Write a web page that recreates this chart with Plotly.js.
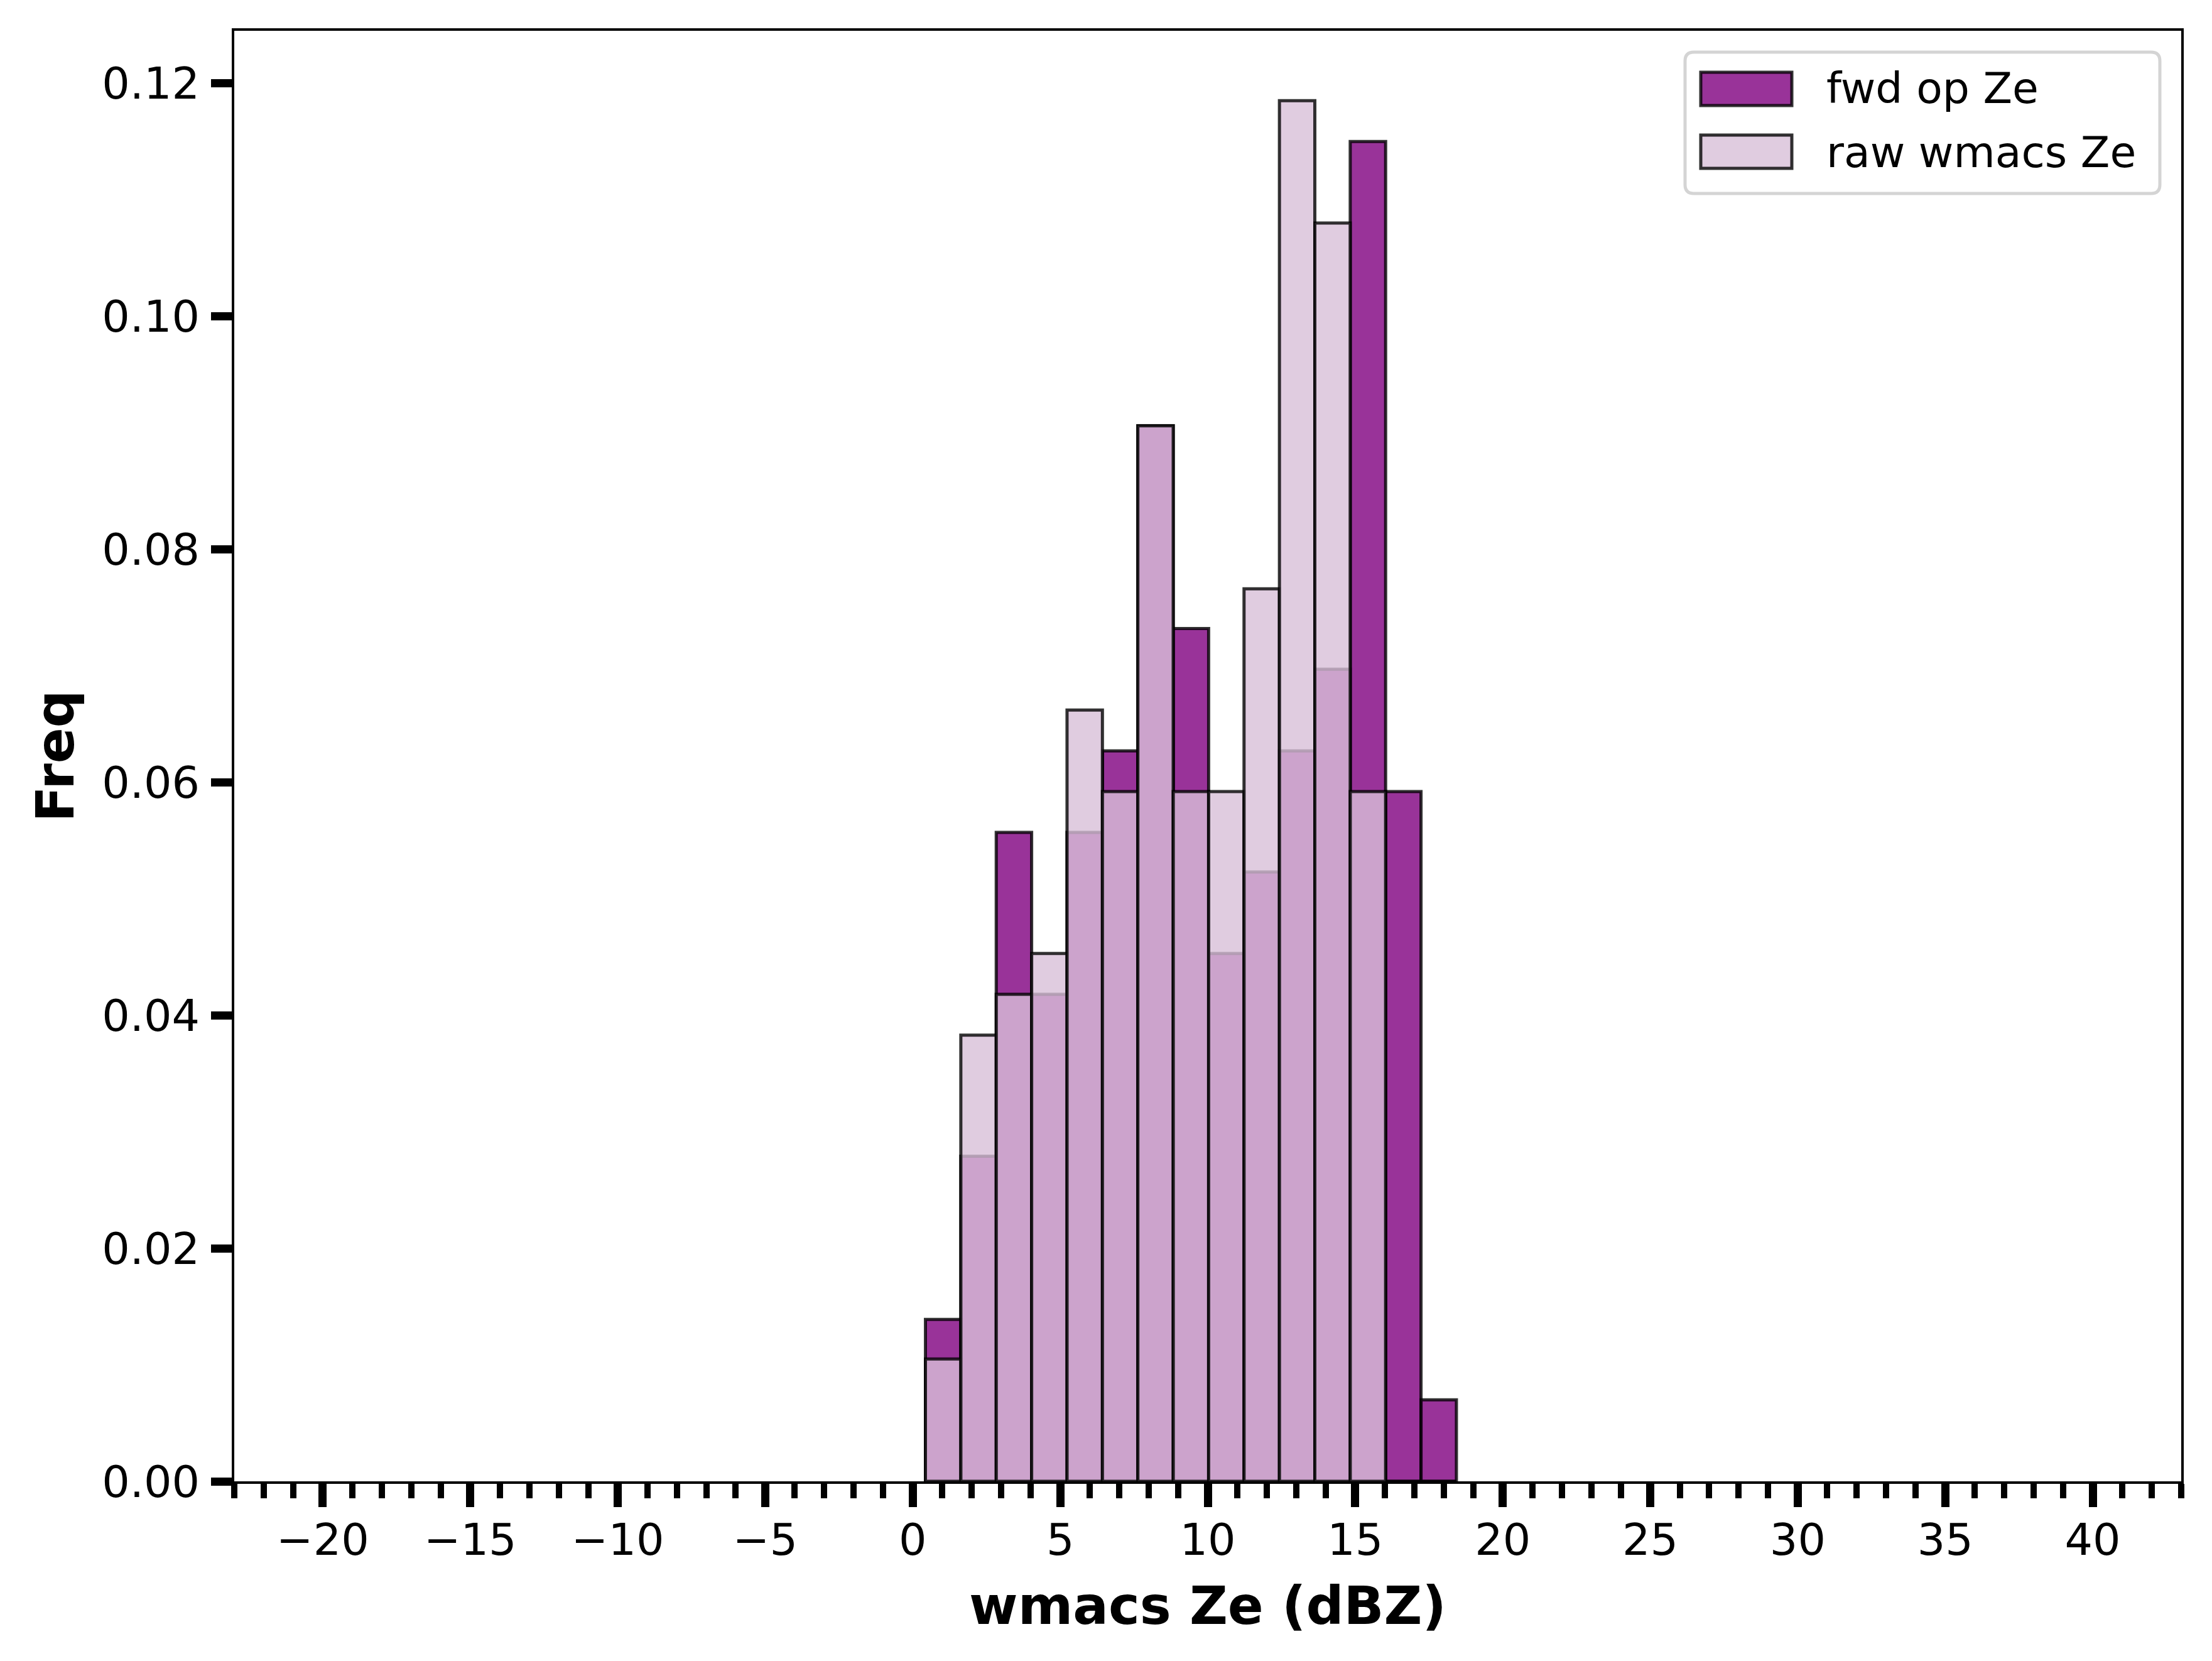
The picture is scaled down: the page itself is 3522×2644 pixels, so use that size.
<!DOCTYPE html>
<html>
<head>
<meta charset="utf-8">
<script src="https://cdn.plot.ly/plotly-3.0.1.min.js"></script>
<style>html,body{margin:0;padding:0;background:#fff;}#chart{width:3522px;height:2644px;}</style>
</head>
<body>
<div id="chart"></div>
<script>
// ---- data ----
const binCenters = [1.03, 2.23, 3.43, 4.63, 5.83, 7.03, 8.23, 9.43, 10.63, 11.83, 13.03, 14.23, 15.43, 16.63, 17.83];
const binWidth = 1.2;
const fwdOpZe = [0.0139, 0.0279, 0.0557, 0.0418, 0.0557, 0.0627, 0.0906, 0.0732, 0.0453, 0.0523, 0.0627, 0.0697, 0.1150, 0.0592, 0.0070];
const rawWmacsZe = [0.0105, 0.0383, 0.0418, 0.0453, 0.0662, 0.0592, 0.0906, 0.0592, 0.0592, 0.0766, 0.1185, 0.1080, 0.0592, 0.0, 0.0];
const seriesNames = ["fwd op Ze", "raw wmacs Ze"];
const yTickVals = [0, 0.02, 0.04, 0.06, 0.08, 0.10, 0.12];

// ---- layout constants ----
const W = 3522, H = 2644;
const L = 373, R = 3473, T = 49, B = 2358;
const px2x = p => (p - L) / (R - L);
const px2y = p => (B - p) / (B - T);
const FONT = "DejaVu Sans, Liberation Sans, sans-serif";
const fwdFill = "rgba(128,0,128,0.8)";
const rawFill = "rgba(216,191,216,0.8)";
const edge = "rgba(0,0,0,0.8)";

const traces = [
  {type: "bar", x: binCenters, y: fwdOpZe, width: binWidth, name: seriesNames[0],
   marker: {color: fwdFill, line: {color: edge, width: 5}}, showlegend: false, hoverinfo: "x+y"},
  {type: "bar", x: binCenters, y: rawWmacsZe, width: binWidth, name: seriesNames[1],
   marker: {color: rawFill, line: {color: edge, width: 5}}, showlegend: false, hoverinfo: "x+y"}
];

// custom legend (matplotlib-style)
function roundRect(x0, y0, x1, y1, r) {
  const X = p => px2x(p).toFixed(5), Y = p => px2y(p).toFixed(5);
  return `M${X(x0 + r)},${Y(y0)} L${X(x1 - r)},${Y(y0)} Q${X(x1)},${Y(y0)} ${X(x1)},${Y(y0 + r)} ` +
         `L${X(x1)},${Y(y1 - r)} Q${X(x1)},${Y(y1)} ${X(x1 - r)},${Y(y1)} ` +
         `L${X(x0 + r)},${Y(y1)} Q${X(x0)},${Y(y1)} ${X(x0)},${Y(y1 - r)} ` +
         `L${X(x0)},${Y(y0 + r)} Q${X(x0)},${Y(y0)} ${X(x0 + r)},${Y(y0)} Z`;
}
const legendRows = [
  {name: seriesNames[0], fill: fwdFill, y0: 115, y1: 168, yc: 141},
  {name: seriesNames[1], fill: rawFill, y0: 215, y1: 268, yc: 242}
];
const shapes = [
  {type: "path", xref: "paper", yref: "paper", path: roundRect(2683, 83, 3439, 308, 14),
   fillcolor: "rgba(255,255,255,0.8)", line: {color: "#d4d4d4", width: 5}, layer: "above"}
];
const annotations = [];
legendRows.forEach(r => {
  shapes.push({type: "rect", xref: "paper", yref: "paper",
    x0: px2x(2708), x1: px2x(2853), y0: px2y(r.y1), y1: px2y(r.y0),
    fillcolor: r.fill, line: {color: edge, width: 5}, layer: "above"});
  annotations.push({xref: "paper", yref: "paper", x: px2x(2906), y: px2y(r.yc),
    xanchor: "left", yanchor: "middle", text: r.name, showarrow: false,
    font: {family: FONT, size: 68, color: "#000"}});
});

const layout = {
  width: W, height: H,
  margin: {l: L, r: W - R, t: T, b: H - B, pad: 0},
  paper_bgcolor: "#fff", plot_bgcolor: "#fff",
  barmode: "overlay", bargap: 0,
  font: {family: FONT, size: 70, color: "#000"},
  xaxis: {
    range: [-23, 43], autorange: false,
    tick0: 0, dtick: 5, tickmode: "linear",
    ticks: "outside", ticklen: 37, tickwidth: 13, tickcolor: "#000",
    minor: {dtick: 1, tick0: 0, ticks: "outside", ticklen: 23, tickwidth: 10, tickcolor: "#000", showgrid: false},
    showgrid: false, zeroline: false,
    showline: true, linecolor: "#000", linewidth: 4, mirror: true,
    tickfont: {family: FONT, size: 70, color: "#000"},
    ticklabelstandoff: -8,
    title: {text: "<b>wmacs Ze (dBZ)</b>", font: {family: FONT, size: 84, color: "#000"}, standoff: 36},
    automargin: false
  },
  yaxis: {
    range: [0, 0.1245], autorange: false,
    tickmode: "array", tickvals: yTickVals, ticktext: yTickVals.map(v => v.toFixed(2)),
    ticks: "outside", ticklen: 33, tickwidth: 13, tickcolor: "#000",
    showgrid: false, zeroline: false,
    showline: true, linecolor: "#000", linewidth: 4, mirror: true,
    tickfont: {family: FONT, size: 70, color: "#000"},
    ticklabelstandoff: 4,
    title: {text: "<b>Freq</b>", font: {family: FONT, size: 84, color: "#000"}, standoff: 18},
    automargin: false
  },
  shapes: shapes,
  annotations: annotations,
  showlegend: false
};

Plotly.newPlot("chart", traces, layout, {displayModeBar: false, staticPlot: true});
</script>
</body>
</html>
